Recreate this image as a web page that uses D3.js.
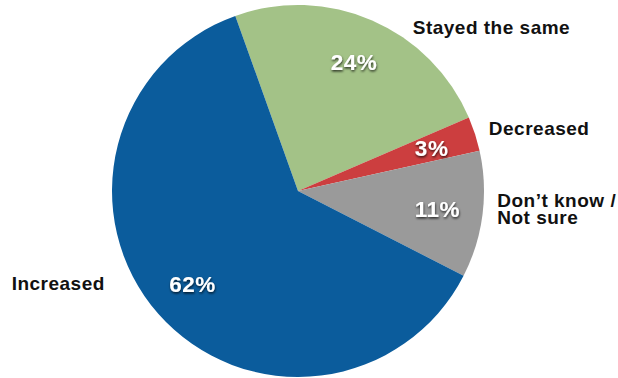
<!DOCTYPE html>
<html>
<head>
<meta charset="utf-8">
<script src="https://cdn.jsdelivr.net/npm/d3@7/dist/d3.min.js"></script>
<style>
  html, body { margin: 0; padding: 0; background: #fff; }
  svg { display: block; font-family: "Liberation Sans", Arial, Helvetica, sans-serif; }
</style>
</head>
<body>
<svg id="chart" width="618" height="378"></svg>
<script>
// Survey responses, in drawing order (clockwise)
const categories = ["Stayed the same", "Decreased", "Don\u2019t know /\nNot sure", "Increased"];
const shares = [24, 3, 11, 62];
const colors = ["#a3c287", "#cc3e3f", "#9a9a9a", "#0b5c9c"];

const width = 618, height = 378;
const cx = 298, cy = 191, R = 186;
const startDeg = -19.7;

const svg = d3.select("#chart");

const defs = svg.append("defs");
const f = defs.append("filter").attr("id", "shadow")
  .attr("x", "-20%").attr("y", "-20%").attr("width", "140%").attr("height", "160%");
f.append("feDropShadow").attr("dx", 0.5).attr("dy", 1.5).attr("stdDeviation", 1.2)
  .attr("flood-color", "#000").attr("flood-opacity", 0.75);

const data = categories.map((c, i) => ({ category: c, value: shares[i], color: colors[i] }));

const start = startDeg * Math.PI / 180;
const pie = d3.pie().value(d => d.value).sort(null)
  .startAngle(start).endAngle(start + 2 * Math.PI);
const arcs = pie(data);

const arc = d3.arc().innerRadius(0).outerRadius(R);
const labelArc = d3.arc().innerRadius(R * 0.755).outerRadius(R * 0.755);

const g = svg.append("g").attr("transform", `translate(${cx},${cy})`);

g.selectAll("path.slice").data(arcs).join("path")
  .attr("class", "slice")
  .attr("d", arc)
  .attr("fill", d => d.data.color);

// percentage labels inside slices
g.selectAll("text.pct").data(arcs).join("text")
  .attr("class", "pct")
  .attr("transform", d => `translate(${labelArc.centroid(d)})`)
  .attr("text-anchor", "middle")
  .attr("dy", "0.36em")
  .attr("fill", "#fff")
  .attr("font-weight", "bold")
  .attr("font-size", 22.5)
  .attr("letter-spacing", 0.5)
  .attr("filter", "url(#shadow)")
  .text(d => d.data.value + "%");

// category labels outside the pie: angle (deg), radius, anchor
const outerLayout = [
  { ang: 35, r: 200, anchor: "start" },
  { ang: 71.7, r: 201, anchor: "start" },
  { ang: 95, r: 200, anchor: "start" },
  { ang: 244.5, r: 214, anchor: "end" }
];

arcs.forEach((d, i) => {
  const L = outerLayout[i];
  const a = L.ang * Math.PI / 180;
  const x = L.r * Math.sin(a), y = -L.r * Math.cos(a);
  const lines = d.data.category.split("\n");
  const t = g.append("text")
    .attr("text-anchor", L.anchor)
    .attr("font-weight", "bold")
    .attr("font-size", 19)
    .attr("letter-spacing", 0.5)
    .attr("fill", "#111");
  lines.forEach((ln, j) => {
    t.append("tspan")
      .attr("x", x)
      .attr("y", y + (j - (lines.length - 1) / 2) * 17)
      .attr("dy", "0.36em")
      .text(ln);
  });
});
</script>
</body>
</html>
